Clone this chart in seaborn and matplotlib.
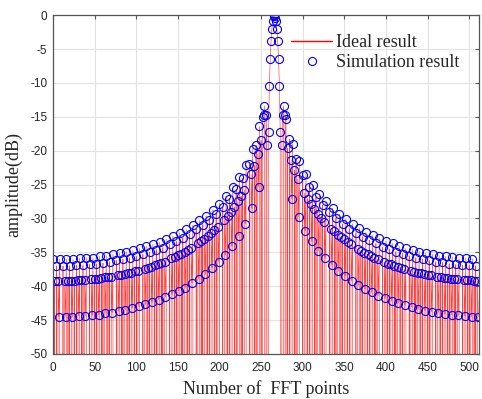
import matplotlib
matplotlib.use("Agg")
import matplotlib.pyplot as plt
import seaborn as sns
import pandas as pd

Z = -300.0  # bins whose level lies far below the plotted range

# amplitude (dB) of each FFT bin, read block by block (8 bins per row)
ideal_db = [
    -36.0, Z, -39.2, Z, -37.0, Z, -39.2, -44.5,
    -36.0, Z, Z, Z, -37.0, Z, -39.2, -44.5,
    -36.0, Z, -39.2, Z, -37.0, Z, -39.2, -44.5,
    -36.0, Z, -39.2, Z, -36.9, Z, -39.1, -44.4,
    -35.9, Z, -39.1, Z, -36.9, Z, -39.1, -44.4,
    -35.8, Z, Z, Z, -36.8, Z, -39.0, -44.3,
    -35.8, Z, -38.9, Z, -36.7, Z, -38.9, -44.2,
    -35.6, Z, -38.8, Z, -36.6, Z, -38.7, -44.0,
    -35.5, Z, -38.7, Z, -36.4, Z, -38.6, -43.9,
    -35.3, Z, Z, Z, -36.2, Z, -38.4, -43.7,
    -35.1, Z, -38.3, Z, -36.0, Z, -38.2, -43.5,
    -34.9, Z, -38.1, Z, -35.8, Z, -38.0, -43.2,
    -34.7, Z, -37.8, Z, -35.6, Z, -37.7, -43.0,
    -34.4, Z, Z, Z, -35.3, Z, -37.4, -42.7,
    -34.1, Z, -37.3, Z, -35.0, Z, -37.1, -42.4,
    -33.8, Z, -36.9, Z, -34.6, Z, -36.7, -42.0,
    -33.5, Z, -36.6, Z, -34.3, Z, -36.4, -41.6,
    -33.0, Z, Z, Z, -33.8, Z, -35.9, -41.2,
    -32.6, Z, -35.7, Z, -33.4, Z, -35.4, -40.7,
    -32.1, Z, -35.2, Z, -32.9, Z, -34.9, -40.2,
    -31.6, Z, -34.6, Z, -32.3, Z, -34.3, -39.5,
    -31.0, Z, Z, Z, -31.6, Z, -33.7, -38.9,
    -30.3, Z, -33.3, Z, -30.9, Z, -33.0, -38.2,
    -29.6, Z, -32.6, Z, -30.2, Z, -32.1, -37.3,
    -28.7, Z, -31.7, Z, -29.3, Z, -31.2, -36.4,
    -27.8, Z, Z, Z, -28.3, Z, -30.2, -35.4,
    -26.7, Z, -29.6, Z, -27.1, Z, -29.0, -34.1,
    -25.4, Z, -28.3, Z, -25.7, Z, -27.5, -32.6,
    -23.9, Z, -26.7, Z, -24.1, Z, -25.8, -30.8,
    -22.1, Z, Z, Z, -22.0, Z, -23.5, -28.5,
    -19.7, Z, -22.2, Z, -19.2, Z, -20.5, -25.4,
    -16.4, Z, -18.5, Z, -15.0, -14.7, -13.4, Z,
    -14.7, -19.1, Z, -17.2, -10.4, -6.5, -3.8, -2.1,
    -0.8, 0.0, -0.1, -0.4, -0.8, -2.1, -3.8, -6.5,
    -10.4, -17.2, Z, -19.1, -14.7, -13.4, Z, -14.7,
    -15.3, Z, -19.6, Z, -18.3, Z, -21.4, -27.1,
    -19.0, Z, -22.9, Z, -21.3, Z, -24.2, -29.8,
    -21.5, Z, Z, Z, -23.6, Z, -26.3, -31.8,
    -23.5, Z, -27.1, Z, -25.3, Z, -27.9, -33.4,
    -25.1, Z, -28.6, Z, -26.8, Z, -29.3, -34.8,
    -26.4, Z, -29.9, Z, -28.0, Z, -30.5, -35.9,
    -27.5, Z, Z, Z, -29.0, Z, -31.5, -36.9,
    -28.5, Z, -31.9, Z, -29.9, Z, -32.4, -37.8,
    -29.4, Z, -32.8, Z, -30.8, Z, -33.1, -38.5,
    -30.1, Z, -33.5, Z, -31.5, Z, -33.8, -39.2,
    -30.8, Z, Z, Z, -32.1, Z, -34.5, -39.9,
    -31.4, Z, -34.8, Z, -32.7, Z, -35.1, -40.4,
    -32.0, Z, -35.3, Z, -33.2, Z, -35.6, -40.9,
    -32.5, Z, -35.8, Z, -33.7, Z, -36.0, -41.4,
    -32.9, Z, Z, Z, -34.2, Z, -36.5, -41.8,
    -33.4, Z, -36.7, Z, -34.5, Z, -36.8, -42.2,
    -33.7, Z, -37.0, Z, -34.9, Z, -37.2, -42.5,
    -34.1, Z, -37.3, Z, -35.2, Z, -37.5, -42.8,
    -34.4, Z, Z, Z, -35.5, Z, -37.8, -43.1,
    -34.6, Z, -37.9, Z, -35.8, Z, -38.0, -43.4,
    -34.9, Z, -38.1, Z, -36.0, Z, -38.2, -43.6,
    -35.1, Z, -38.3, Z, -36.2, Z, -38.4, -43.8,
    -35.3, Z, Z, Z, -36.4, Z, -38.6, -43.9,
    -35.5, Z, -38.7, Z, -36.5, Z, -38.8, -44.1,
    -35.6, Z, -38.8, Z, -36.7, Z, -38.9, -44.2,
    -35.7, Z, -39.0, Z, -36.8, Z, -39.0, -44.3,
    -35.8, Z, Z, Z, -36.9, Z, -39.1, -44.4,
    -35.9, Z, -39.1, Z, -36.9, Z, -39.1, -44.5,
    -36.0, Z, -39.2, Z, -37.0, Z, -39.2, -44.5,
]
simulation_db = list(ideal_db)  # simulated bins coincide with the ideal ones
fft_bin = list(range(len(ideal_db)))

x_ticks = [0, 50, 100, 150, 200, 250, 300, 350, 400, 450, 500]
y_ticks = [0, -5, -10, -15, -20, -25, -30, -35, -40, -45, -50]
series_labels = ["Ideal result", "Simulation result"]

df = pd.DataFrame({"bin": fft_bin, "ideal": ideal_db, "sim": simulation_db})

sns.set_theme(style="white")
plt.rcParams["font.family"] = ["Liberation Sans", "DejaVu Sans"]
plt.rcParams["axes.unicode_minus"] = False

fig = plt.figure(figsize=(4.82, 3.99), dpi=100)
ax = fig.add_axes([0.110, 0.113, 0.884, 0.849])

sns.lineplot(data=df, x="bin", y="ideal", ax=ax, color="red", lw=0.45,
             alpha=0.75, estimator=None, sort=False, legend=False)
sns.lineplot(data=df, x="bin", y="sim", ax=ax, color="blue", linestyle="",
             marker="o", markersize=5.8, markerfacecolor="none",
             markeredgecolor="blue", markeredgewidth=0.8,
             estimator=None, sort=False, legend=False)

ax.set_xlim(0, 512)
ax.set_ylim(-50, 0)
ax.set_xticks(x_ticks)
ax.set_yticks(y_ticks)
ax.grid(True, color="#e2e2e2", lw=0.8)
ax.set_axisbelow(True)
for s in ax.spines.values():
    s.set_color("#555555")
    s.set_linewidth(0.9)
ax.tick_params(direction="in", top=True, right=True, length=3, width=0.8,
               color="#555555", labelcolor="#262626", labelsize=8.5)
ax.tick_params(axis="x", pad=6)
ax.tick_params(axis="y", pad=4)

serif = {"family": ["Liberation Serif", "DejaVu Serif"], "size": 13}
ax.set_xlabel("Number of  FFT points", fontdict=serif, color="#262626", labelpad=4)
ax.set_ylabel("amplitude(dB)", fontdict=serif, color="#262626", labelpad=6)

handles = [
    plt.Line2D([], [], color="red", lw=1.0),
    plt.Line2D([], [], color="blue", linestyle="", marker="o", markersize=5.8,
               markerfacecolor="none", markeredgewidth=0.8),
]
leg = ax.legend(handles, series_labels, loc="upper left",
                bbox_to_anchor=(0.541, 0.965), frameon=False, prop=serif,
                handlelength=2.3, handletextpad=0.2, borderaxespad=0,
                labelspacing=0.15)
for t in leg.get_texts():
    t.set_color("#262626")

fig.savefig("out.png", dpi=100)
